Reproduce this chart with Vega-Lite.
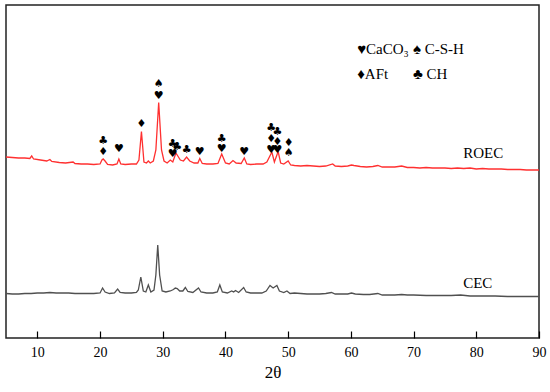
{
  "$schema": "https://vega.github.io/schema/vega-lite/v6.json",
  "width": 533,
  "height": 333,
  "autosize": {"type": "none"},
  "padding": {"left": 6, "top": 5, "right": 11, "bottom": 54},
  "background": "white",
  "config": {"view": {"stroke": "#222222", "strokeWidth": 1.5}},
  "datasets": {
    "xrd": [
      {"t": 5.0, "v": 181, "s": "ROEC"}, {"t": 6.0, "v": 180.5, "s": "ROEC"}, {"t": 7.0, "v": 180, "s": "ROEC"}, {"t": 8.0, "v": 180, "s": "ROEC"},
      {"t": 8.8, "v": 179.5, "s": "ROEC"}, {"t": 9.1, "v": 182, "s": "ROEC"}, {"t": 9.4, "v": 179, "s": "ROEC"}, {"t": 10.5, "v": 178, "s": "ROEC"},
      {"t": 11.5, "v": 177, "s": "ROEC"}, {"t": 12.0, "v": 178.5, "s": "ROEC"}, {"t": 12.3, "v": 176.5, "s": "ROEC"}, {"t": 13.5, "v": 175.5, "s": "ROEC"},
      {"t": 14.5, "v": 175, "s": "ROEC"}, {"t": 15.7, "v": 176, "s": "ROEC"}, {"t": 16.0, "v": 174.5, "s": "ROEC"}, {"t": 17.0, "v": 174, "s": "ROEC"},
      {"t": 18.0, "v": 174, "s": "ROEC"}, {"t": 19.0, "v": 173.5, "s": "ROEC"}, {"t": 20.0, "v": 174, "s": "ROEC"}, {"t": 20.3, "v": 178, "s": "ROEC"},
      {"t": 20.5, "v": 179, "s": "ROEC"}, {"t": 20.8, "v": 177, "s": "ROEC"}, {"t": 21.2, "v": 173.5, "s": "ROEC"}, {"t": 22.0, "v": 173, "s": "ROEC"},
      {"t": 22.7, "v": 174, "s": "ROEC"}, {"t": 23.0, "v": 179, "s": "ROEC"}, {"t": 23.3, "v": 174, "s": "ROEC"}, {"t": 24.0, "v": 173.5, "s": "ROEC"},
      {"t": 25.0, "v": 174, "s": "ROEC"}, {"t": 25.8, "v": 174, "s": "ROEC"}, {"t": 26.2, "v": 178, "s": "ROEC"}, {"t": 26.6, "v": 206.5, "s": "ROEC"},
      {"t": 27.0, "v": 176, "s": "ROEC"}, {"t": 27.4, "v": 175, "s": "ROEC"}, {"t": 27.7, "v": 177, "s": "ROEC"}, {"t": 28.0, "v": 175, "s": "ROEC"},
      {"t": 28.5, "v": 177, "s": "ROEC"}, {"t": 28.9, "v": 188, "s": "ROEC"}, {"t": 29.35, "v": 235.5, "s": "ROEC"}, {"t": 29.8, "v": 188, "s": "ROEC"},
      {"t": 30.2, "v": 177, "s": "ROEC"}, {"t": 30.7, "v": 175, "s": "ROEC"}, {"t": 31.2, "v": 178, "s": "ROEC"}, {"t": 31.6, "v": 176, "s": "ROEC"},
      {"t": 32.1, "v": 185, "s": "ROEC"}, {"t": 32.4, "v": 182, "s": "ROEC"}, {"t": 32.8, "v": 178, "s": "ROEC"}, {"t": 33.3, "v": 177, "s": "ROEC"},
      {"t": 33.8, "v": 181, "s": "ROEC"}, {"t": 34.3, "v": 177, "s": "ROEC"}, {"t": 35.0, "v": 175, "s": "ROEC"}, {"t": 35.6, "v": 175, "s": "ROEC"},
      {"t": 35.9, "v": 179.5, "s": "ROEC"}, {"t": 36.3, "v": 174.5, "s": "ROEC"}, {"t": 37.0, "v": 174, "s": "ROEC"}, {"t": 38.0, "v": 174, "s": "ROEC"},
      {"t": 38.8, "v": 174.5, "s": "ROEC"}, {"t": 39.4, "v": 184, "s": "ROEC"}, {"t": 40.0, "v": 175, "s": "ROEC"}, {"t": 40.6, "v": 174, "s": "ROEC"},
      {"t": 41.2, "v": 177.5, "s": "ROEC"}, {"t": 41.7, "v": 175, "s": "ROEC"}, {"t": 42.5, "v": 174.5, "s": "ROEC"}, {"t": 43.0, "v": 180, "s": "ROEC"},
      {"t": 43.4, "v": 174, "s": "ROEC"}, {"t": 44.0, "v": 173.5, "s": "ROEC"}, {"t": 45.0, "v": 174, "s": "ROEC"}, {"t": 46.0, "v": 174, "s": "ROEC"},
      {"t": 46.6, "v": 176, "s": "ROEC"}, {"t": 47.4, "v": 186, "s": "ROEC"}, {"t": 47.8, "v": 176, "s": "ROEC"}, {"t": 48.4, "v": 186.5, "s": "ROEC"},
      {"t": 48.8, "v": 175, "s": "ROEC"}, {"t": 49.3, "v": 174, "s": "ROEC"}, {"t": 50.0, "v": 177, "s": "ROEC"}, {"t": 50.4, "v": 173, "s": "ROEC"},
      {"t": 51.0, "v": 172.5, "s": "ROEC"}, {"t": 52.0, "v": 172, "s": "ROEC"}, {"t": 53.0, "v": 172.5, "s": "ROEC"}, {"t": 54.0, "v": 172, "s": "ROEC"},
      {"t": 55.0, "v": 171.5, "s": "ROEC"}, {"t": 56.0, "v": 172, "s": "ROEC"}, {"t": 57.1, "v": 174, "s": "ROEC"}, {"t": 57.5, "v": 172, "s": "ROEC"},
      {"t": 58.5, "v": 171.5, "s": "ROEC"}, {"t": 59.5, "v": 172, "s": "ROEC"}, {"t": 60.1, "v": 173, "s": "ROEC"}, {"t": 60.5, "v": 172.5, "s": "ROEC"},
      {"t": 61.5, "v": 171.5, "s": "ROEC"}, {"t": 62.5, "v": 171, "s": "ROEC"}, {"t": 63.5, "v": 171.5, "s": "ROEC"}, {"t": 64.3, "v": 172.5, "s": "ROEC"},
      {"t": 65.0, "v": 171, "s": "ROEC"}, {"t": 66.0, "v": 171, "s": "ROEC"}, {"t": 67.0, "v": 171, "s": "ROEC"}, {"t": 68.1, "v": 172, "s": "ROEC"},
      {"t": 69.0, "v": 170.5, "s": "ROEC"}, {"t": 70.0, "v": 170.5, "s": "ROEC"}, {"t": 71.0, "v": 170, "s": "ROEC"}, {"t": 72.0, "v": 170.5, "s": "ROEC"},
      {"t": 73.0, "v": 170, "s": "ROEC"}, {"t": 74.0, "v": 170, "s": "ROEC"}, {"t": 75.0, "v": 170, "s": "ROEC"}, {"t": 76.0, "v": 169.5, "s": "ROEC"},
      {"t": 77.0, "v": 170, "s": "ROEC"}, {"t": 78.0, "v": 169.5, "s": "ROEC"}, {"t": 79.0, "v": 170, "s": "ROEC"}, {"t": 80.0, "v": 169, "s": "ROEC"},
      {"t": 81.0, "v": 169.5, "s": "ROEC"}, {"t": 82.0, "v": 169, "s": "ROEC"}, {"t": 83.0, "v": 169, "s": "ROEC"}, {"t": 84.0, "v": 169, "s": "ROEC"},
      {"t": 85.0, "v": 168.5, "s": "ROEC"}, {"t": 86.0, "v": 168.5, "s": "ROEC"}, {"t": 87.0, "v": 168.5, "s": "ROEC"}, {"t": 88.0, "v": 168, "s": "ROEC"},
      {"t": 89.0, "v": 168, "s": "ROEC"}, {"t": 90.0, "v": 168, "s": "ROEC"},

      {"t": 5.0, "v": 44.5, "s": "CEC"}, {"t": 6.0, "v": 44, "s": "CEC"}, {"t": 7.0, "v": 44, "s": "CEC"}, {"t": 8.0, "v": 44.5, "s": "CEC"},
      {"t": 9.0, "v": 44.5, "s": "CEC"}, {"t": 10.0, "v": 45, "s": "CEC"}, {"t": 11.0, "v": 45, "s": "CEC"}, {"t": 12.0, "v": 45.5, "s": "CEC"},
      {"t": 13.0, "v": 45, "s": "CEC"}, {"t": 14.0, "v": 45, "s": "CEC"}, {"t": 15.0, "v": 45, "s": "CEC"}, {"t": 16.0, "v": 44.5, "s": "CEC"},
      {"t": 17.0, "v": 44.5, "s": "CEC"}, {"t": 18.0, "v": 44.5, "s": "CEC"}, {"t": 19.0, "v": 44.5, "s": "CEC"}, {"t": 20.0, "v": 45, "s": "CEC"},
      {"t": 20.4, "v": 50, "s": "CEC"}, {"t": 20.8, "v": 46, "s": "CEC"}, {"t": 21.5, "v": 44.5, "s": "CEC"}, {"t": 22.3, "v": 45, "s": "CEC"},
      {"t": 22.8, "v": 49, "s": "CEC"}, {"t": 23.2, "v": 45.5, "s": "CEC"}, {"t": 24.0, "v": 45, "s": "CEC"}, {"t": 25.0, "v": 45, "s": "CEC"},
      {"t": 25.8, "v": 45.5, "s": "CEC"}, {"t": 26.1, "v": 48, "s": "CEC"}, {"t": 26.5, "v": 61, "s": "CEC"}, {"t": 26.9, "v": 47, "s": "CEC"},
      {"t": 27.3, "v": 46, "s": "CEC"}, {"t": 27.7, "v": 53, "s": "CEC"}, {"t": 28.1, "v": 46, "s": "CEC"}, {"t": 28.6, "v": 48, "s": "CEC"},
      {"t": 28.9, "v": 63, "s": "CEC"}, {"t": 29.2, "v": 93, "s": "CEC"}, {"t": 29.5, "v": 63, "s": "CEC"}, {"t": 29.9, "v": 47, "s": "CEC"},
      {"t": 30.5, "v": 46, "s": "CEC"}, {"t": 31.2, "v": 47, "s": "CEC"}, {"t": 31.7, "v": 48.5, "s": "CEC"}, {"t": 32.0, "v": 50, "s": "CEC"},
      {"t": 32.3, "v": 49.5, "s": "CEC"}, {"t": 32.7, "v": 47, "s": "CEC"}, {"t": 33.2, "v": 47, "s": "CEC"}, {"t": 33.6, "v": 50.5, "s": "CEC"},
      {"t": 34.0, "v": 46.5, "s": "CEC"}, {"t": 34.8, "v": 45.5, "s": "CEC"}, {"t": 35.7, "v": 50, "s": "CEC"}, {"t": 36.1, "v": 46, "s": "CEC"},
      {"t": 37.0, "v": 45, "s": "CEC"}, {"t": 38.0, "v": 45, "s": "CEC"}, {"t": 38.7, "v": 46, "s": "CEC"}, {"t": 39.1, "v": 53, "s": "CEC"},
      {"t": 39.5, "v": 46, "s": "CEC"}, {"t": 40.3, "v": 45, "s": "CEC"}, {"t": 41.0, "v": 47, "s": "CEC"}, {"t": 41.3, "v": 46, "s": "CEC"},
      {"t": 41.6, "v": 47.5, "s": "CEC"}, {"t": 42.1, "v": 45.5, "s": "CEC"}, {"t": 42.9, "v": 50.5, "s": "CEC"}, {"t": 43.3, "v": 46, "s": "CEC"},
      {"t": 44.0, "v": 45, "s": "CEC"}, {"t": 45.0, "v": 45, "s": "CEC"}, {"t": 45.8, "v": 45, "s": "CEC"}, {"t": 46.5, "v": 47, "s": "CEC"},
      {"t": 47.1, "v": 52.5, "s": "CEC"}, {"t": 47.6, "v": 50, "s": "CEC"}, {"t": 48.2, "v": 52.5, "s": "CEC"}, {"t": 48.6, "v": 47, "s": "CEC"},
      {"t": 49.3, "v": 45.5, "s": "CEC"}, {"t": 49.8, "v": 47, "s": "CEC"}, {"t": 50.3, "v": 44.5, "s": "CEC"}, {"t": 51.0, "v": 45, "s": "CEC"},
      {"t": 52.0, "v": 44.5, "s": "CEC"}, {"t": 53.0, "v": 44, "s": "CEC"}, {"t": 54.0, "v": 44, "s": "CEC"}, {"t": 55.0, "v": 44, "s": "CEC"},
      {"t": 56.0, "v": 44.5, "s": "CEC"}, {"t": 56.9, "v": 45.5, "s": "CEC"}, {"t": 57.5, "v": 44, "s": "CEC"}, {"t": 58.5, "v": 44, "s": "CEC"},
      {"t": 59.5, "v": 44, "s": "CEC"}, {"t": 60.1, "v": 45, "s": "CEC"}, {"t": 60.7, "v": 44, "s": "CEC"}, {"t": 62.0, "v": 43.5, "s": "CEC"},
      {"t": 63.0, "v": 43.5, "s": "CEC"}, {"t": 64.3, "v": 44.5, "s": "CEC"}, {"t": 65.0, "v": 43, "s": "CEC"}, {"t": 66.0, "v": 43, "s": "CEC"},
      {"t": 67.0, "v": 43, "s": "CEC"}, {"t": 68.1, "v": 43.5, "s": "CEC"}, {"t": 69.0, "v": 43, "s": "CEC"}, {"t": 70.0, "v": 43, "s": "CEC"},
      {"t": 72.0, "v": 42.5, "s": "CEC"}, {"t": 74.0, "v": 42.5, "s": "CEC"}, {"t": 76.0, "v": 42.5, "s": "CEC"}, {"t": 77.5, "v": 43, "s": "CEC"},
      {"t": 79.0, "v": 42, "s": "CEC"}, {"t": 81.0, "v": 42, "s": "CEC"}, {"t": 83.0, "v": 42, "s": "CEC"}, {"t": 85.0, "v": 41.5, "s": "CEC"},
      {"t": 87.0, "v": 41.5, "s": "CEC"}, {"t": 89.0, "v": 41.5, "s": "CEC"}, {"t": 90.0, "v": 41.5, "s": "CEC"}
    ],
    "marks": [
      {"t": 20.5, "v": 197, "sym": "♣"}, {"t": 20.5, "v": 186, "sym": "♦"},
      {"t": 23.0, "v": 189, "sym": "♥"},
      {"t": 26.6, "v": 214, "sym": "♦"},
      {"t": 29.35, "v": 254, "sym": "♠"}, {"t": 29.35, "v": 242, "sym": "♥"},
      {"t": 31.6, "v": 194, "sym": "♣"}, {"t": 31.6, "v": 184, "sym": "♥"},
      {"t": 32.3, "v": 191, "sym": "♣"},
      {"t": 33.8, "v": 188, "sym": "♣"},
      {"t": 35.9, "v": 186, "sym": "♥"},
      {"t": 39.4, "v": 199, "sym": "♣"}, {"t": 39.4, "v": 189, "sym": "♥"},
      {"t": 43.0, "v": 186, "sym": "♥"},
      {"t": 47.3, "v": 210, "sym": "♣"}, {"t": 47.3, "v": 199, "sym": "♦"}, {"t": 47.3, "v": 188.5, "sym": "♥"},
      {"t": 48.3, "v": 206, "sym": "♣"}, {"t": 48.3, "v": 196, "sym": "♦"}, {"t": 48.3, "v": 188, "sym": "♥"},
      {"t": 50.1, "v": 195, "sym": "♦"}, {"t": 50.1, "v": 185, "sym": "♠"}
    ],
    "labels": [
      {"t": 77.9, "v": 185, "label": "ROEC"},
      {"t": 77.9, "v": 55, "label": "CEC"},
      {"t": 61.0, "v": 289, "label": "♥CaCO₃"},
      {"t": 69.9, "v": 289, "label": "♠ C-S-H"},
      {"t": 61.0, "v": 264, "label": "♦AFt"},
      {"t": 69.9, "v": 264, "label": "♣ CH"}
    ]
  },
  "layer": [
    {
      "data": {"name": "xrd"},
      "mark": {"type": "line", "strokeWidth": 1.3, "interpolate": "linear"},
      "encoding": {
        "x": {
          "field": "t", "type": "quantitative",
          "scale": {"domain": [5, 90], "nice": false, "zero": false},
          "axis": {
            "title": "2θ",
            "titleFont": "Liberation Serif", "titleFontSize": 17, "titleFontWeight": "normal", "titleColor": "black",
            "titlePadding": 5,
            "values": [10, 15, 20, 25, 30, 35, 40, 45, 50, 55, 60, 65, 70, 75, 80, 85, 90],
            "labelExpr": "datum.value % 10 === 0 ? datum.label : ''",
            "labelFont": "Liberation Serif", "labelFontSize": 14, "labelColor": "black",
            "labelPadding": 14, "labelFlush": false,
            "domain": false, "grid": false,
            "tickColor": "black", "tickWidth": 1.2,
            "tickSize": {"condition": {"test": "datum.value % 10 === 0", "value": -7}, "value": -3}
          }
        },
        "y": {
          "field": "v", "type": "quantitative",
          "scale": {"domain": [0, 333], "nice": false, "zero": false},
          "axis": null
        },
        "color": {
          "field": "s", "type": "nominal",
          "scale": {"domain": ["ROEC", "CEC"], "range": ["#ff3030", "#505050"]},
          "legend": null
        },
        "order": {"field": "t", "type": "quantitative"}
      }
    },
    {
      "data": {"name": "marks"},
      "mark": {"type": "text", "font": "DejaVu Sans", "fontSize": 11, "color": "black", "baseline": "middle", "align": "center"},
      "encoding": {
        "x": {"field": "t", "type": "quantitative"},
        "y": {"field": "v", "type": "quantitative"},
        "text": {"field": "sym"}
      }
    },
    {
      "data": {"name": "labels"},
      "mark": {"type": "text", "font": "Liberation Serif", "fontSize": 15, "color": "black", "baseline": "middle", "align": "left"},
      "encoding": {
        "x": {"field": "t", "type": "quantitative"},
        "y": {"field": "v", "type": "quantitative"},
        "text": {"field": "label"}
      }
    }
  ]
}
